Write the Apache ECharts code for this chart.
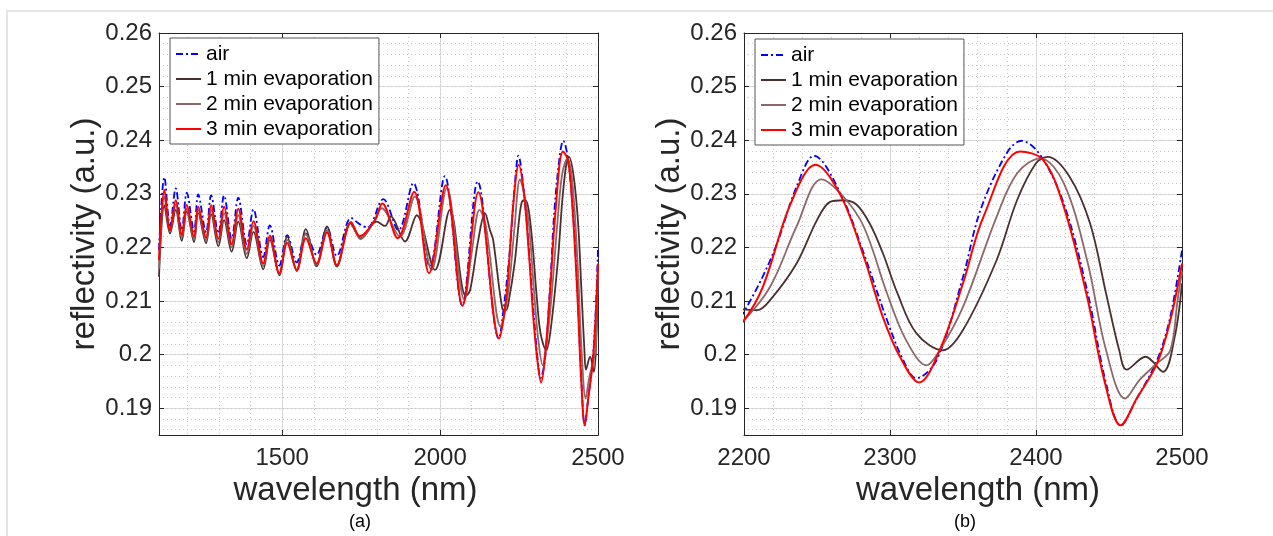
<!DOCTYPE html>
<html lang="en">
<head>
    <meta charset="UTF-8">
    <title>reflectivity vs wavelength</title>
    <script type="text/javascript" src="https://cdn.jsdelivr.net/npm/echarts@6/dist/echarts.min.js"></script>
    <style>
        body { margin: 0; background: #fff; }
        #frame {
            position: absolute; left: 6px; top: 10px; width: 1300px; height: 600px;
            border-top: 2px solid #e4e4e4; border-left: 2px solid #e4e4e4;
        }
        #main { position: absolute; left: 0; top: 0; width: 1273px; height: 536px; }
    </style>
</head>
<body>
<div id="frame"></div>
<div id="main"></div>
<script>
    // air
    var airWl = [1110, 1127, 1145, 1163, 1182, 1198, 1221, 1234, 1259, 1275, 1298, 1316, 1340, 1361, 1388, 1409, 1440, 1461, 1491, 1516, 1546, 1575, 1609, 1642, 1673,
        1718, 1746, 1770, 1820, 1868, 1915, 1968, 2015, 2070, 2119, 2186, 2200, 2220, 2236, 2248, 2266, 2282, 2298, 2309, 2318, 2332, 2350, 2362, 2380, 2390, 2403, 2419, 2435, 2448, 2458, 2469, 2483, 2492, 2500];
    var airRefl = [0.2195, 0.2331, 0.2240, 0.2310, 0.2232, 0.2302, 0.2230, 0.2299, 0.2228, 0.2297, 0.2226, 0.2297, 0.2216, 0.2293, 0.2206, 0.2271, 0.2182, 0.2241, 0.2166, 0.2223, 0.2172, 0.2226, 0.2186, 0.2237, 0.2184,
        0.2255, 0.2243, 0.2237, 0.2290, 0.2232, 0.2320, 0.2164, 0.2333, 0.2092, 0.2323, 0.2030, 0.2080, 0.2189, 0.2313, 0.2371, 0.2301, 0.2189, 0.2064, 0.1990, 0.1956, 0.1990, 0.2145, 0.2270, 0.2376, 0.2399, 0.2372, 0.2282, 0.2120, 0.1946, 0.1868, 0.1918, 0.1990, 0.2071, 0.2195];

    // 1 min
    var min1Wl = [1110, 1127, 1145, 1163, 1182, 1198, 1221, 1234, 1259, 1275, 1298, 1316, 1340, 1361, 1388, 1409, 1440, 1461, 1491, 1516, 1546, 1575, 1609, 1642, 1673,
        1716, 1749, 1799, 1826, 1844, 1889, 1926, 1984, 2031, 2081, 2095, 2121, 2142, 2158, 2168, 2197, 2209, 2218, 2236, 2250, 2259, 2268, 2277, 2286, 2295, 2305, 2318, 2336, 2350, 2373, 2387, 2400, 2408, 2423, 2437, 2448, 2457, 2462, 2475, 2487, 2495, 2500];
    var min1Refl = [0.2145, 0.2279, 0.2226, 0.2270, 0.2212, 0.2267, 0.2210, 0.2264, 0.2208, 0.2262, 0.2202, 0.2251, 0.2192, 0.2248, 0.2180, 0.2229, 0.2159, 0.2214, 0.2148, 0.2220, 0.2156, 0.2234, 0.2165, 0.2239, 0.2164,
        0.2245, 0.2217, 0.2248, 0.2240, 0.2258, 0.2211, 0.2260, 0.2158, 0.2270, 0.2109, 0.2120, 0.2214, 0.2264, 0.2232, 0.2214, 0.2086, 0.2083, 0.2102, 0.2170, 0.2251, 0.2285, 0.2288, 0.2280, 0.2245, 0.2190, 0.2115, 0.2040, 0.2008, 0.2046, 0.2176, 0.2288, 0.2357, 0.2369, 0.2332, 0.2245, 0.2114, 0.2008, 0.1972, 0.1996, 0.1968, 0.2033, 0.2133];

    // 2 min
    var min2Wl = [1110, 1127, 1145, 1163, 1182, 1198, 1221, 1234, 1259, 1275, 1298, 1316, 1340, 1361, 1388, 1409, 1440, 1461, 1491, 1516, 1546, 1575, 1609, 1642, 1673,
        1718, 1748, 1790, 1815, 1873, 1920, 1973, 2021, 2077, 2100, 2125, 2145, 2192, 2200, 2218, 2236, 2253, 2268, 2282, 2298, 2311, 2325, 2334, 2350, 2373, 2387, 2403, 2419, 2435, 2448, 2461, 2471, 2483, 2492, 2497, 2500];
    var min2Refl = [0.2160, 0.2295, 0.2230, 0.2280, 0.2218, 0.2272, 0.2215, 0.2270, 0.2213, 0.2270, 0.2210, 0.2264, 0.2200, 0.2260, 0.2188, 0.2240, 0.2165, 0.2218, 0.2150, 0.2214, 0.2157, 0.2225, 0.2168, 0.2232, 0.2166,
        0.2247, 0.2215, 0.2248, 0.2273, 0.2220, 0.2295, 0.2158, 0.2310, 0.2102, 0.2190, 0.2270, 0.2240, 0.2052, 0.2064, 0.2127, 0.2239, 0.2327, 0.2295, 0.2239, 0.2114, 0.2027, 0.1980, 0.2008, 0.2089, 0.2257, 0.2338, 0.2366, 0.2320, 0.2176, 0.2008, 0.1918, 0.1953, 0.1984, 0.2008, 0.2102, 0.2155];

    // 3 min
    var min3Wl = [1110, 1127, 1145, 1163, 1182, 1198, 1221, 1234, 1259, 1275, 1298, 1316, 1340, 1361, 1388, 1409, 1440, 1461, 1491, 1516, 1546, 1575, 1609, 1642, 1673,
        1718, 1746, 1794, 1817, 1866, 1918, 1965, 2018, 2071, 2121, 2187, 2200, 2213, 2232, 2249, 2266, 2282, 2295, 2307, 2320, 2334, 2350, 2364, 2389, 2405, 2419, 2435, 2447, 2458, 2469, 2483, 2492, 2500];
    var min3Refl = [0.2176, 0.2307, 0.2232, 0.2288, 0.2223, 0.2279, 0.2220, 0.2276, 0.2218, 0.2278, 0.2216, 0.2276, 0.2206, 0.2272, 0.2196, 0.2249, 0.2170, 0.2222, 0.2152, 0.2208, 0.2158, 0.2217, 0.2170, 0.2228, 0.2167,
        0.2247, 0.2221, 0.2251, 0.2282, 0.2217, 0.2304, 0.2152, 0.2316, 0.2091, 0.2303, 0.2030, 0.2064, 0.2127, 0.2282, 0.2354, 0.2298, 0.2183, 0.2071, 0.1995, 0.1948, 0.2008, 0.2133, 0.2257, 0.2379, 0.2363, 0.2276, 0.2108, 0.1950, 0.1868, 0.1918, 0.1984, 0.2064, 0.2170];

    var seriesNames = ['air', '1 min evaporation', '2 min evaporation', '3 min evaporation'];
    var seriesWl = [airWl, min1Wl, min2Wl, min3Wl];
    var seriesRefl = [airRefl, min1Refl, min2Refl, min3Refl];
    var seriesColors = ['#0000ff', '#4b2f2f', '#8c6868', '#ff0000'];

    var yMin = 0.185, yMax = 0.26;
    var FONT = 'Liberation Sans, Arial, sans-serif';
    var INK = '#262626';

    function pairs(w, r) {
        return w.map(function (x, i) { return [x, r[i]]; });
    }

    // main (labelled) axes
    function xMain(grid, min, max, split, namePad) {
        return {
            type: 'value', gridIndex: grid, min: min, max: max, splitNumber: split, position: 'bottom',
            axisLine: {show: true, lineStyle: {color: INK, width: 1}},
            axisTick: {show: true, inside: true, length: 5, lineStyle: {color: INK}},
            axisLabel: {showMinLabel: min % 100 === 0, margin: 11, fontSize: 24, color: INK, fontFamily: FONT,
                formatter: function (v) { return String(v); }},
            splitLine: {show: true, lineStyle: {color: '#dcdcdc', width: 1}},
            name: 'wavelength (nm)', nameLocation: 'middle', nameGap: 37,
            nameTextStyle: {fontSize: 33, color: INK, fontFamily: FONT, padding: namePad}
        };
    }
    function xTop(grid, min, max, split) {
        return {
            type: 'value', gridIndex: grid, min: min, max: max, splitNumber: split, position: 'top',
            axisLine: {show: true, lineStyle: {color: INK, width: 1}},
            axisTick: {show: true, inside: true, length: 5, lineStyle: {color: INK}},
            axisLabel: {show: false}, splitLine: {show: false}
        };
    }
    function yMainAx(grid) {
        return {
            type: 'value', gridIndex: grid, min: yMin, max: yMax, splitNumber: 8, position: 'left',
            axisLine: {show: true, lineStyle: {color: INK, width: 1}},
            axisTick: {show: true, inside: true, length: 5, lineStyle: {color: INK}},
            axisLabel: {showMinLabel: false, margin: 7, fontSize: 24, color: INK, fontFamily: FONT},
            splitLine: {show: true, lineStyle: {color: '#dcdcdc', width: 1}},
            name: 'reflectivity (a.u.)', nameLocation: 'middle', nameGap: 55,
            nameTextStyle: {fontSize: 33, color: INK, fontFamily: FONT}
        };
    }
    function yRight(grid) {
        return {
            type: 'value', gridIndex: grid, min: yMin, max: yMax, splitNumber: 8, position: 'right',
            axisLine: {show: true, lineStyle: {color: INK, width: 1}},
            axisTick: {show: true, inside: true, length: 5, lineStyle: {color: INK}},
            axisLabel: {show: false}, splitLine: {show: false}
        };
    }
    // unlabelled axes that only carry the dotted minor grid
    function minorAx(grid, min, max, split, pos) {
        return {
            type: 'value', gridIndex: grid, min: min, max: max, splitNumber: split, position: pos,
            axisLine: {show: false}, axisTick: {show: false}, axisLabel: {show: false},
            splitLine: {show: true, lineStyle: {color: '#c8c8c8', width: 1, type: [1, 3]}}
        };
    }

    var series = [];
    [0, 1].forEach(function (g) {
        seriesNames.forEach(function (name, i) {
            series.push({
                name: name, type: 'line', xAxisIndex: g * 3, yAxisIndex: g * 3,
                data: pairs(seriesWl[i], seriesRefl[i]),
                smooth: 0.35, symbol: 'none', clip: true,
                itemStyle: {color: seriesColors[i]},
                lineStyle: {color: seriesColors[i], width: i === 3 ? 2 : 1.8, type: i === 0 ? [7, 3, 2, 3] : 'solid'}
            });
        });
    });

    function legendAt(left, top) {
        return {
            data: seriesNames, orient: 'vertical', left: left, top: top,
            itemWidth: 25, itemHeight: 12, itemGap: 1, padding: [4, 6, 3, 5],
            itemStyle: {opacity: 0},
            backgroundColor: '#fff', borderColor: '#555', borderWidth: 1, borderRadius: 0,
            selectedMode: false,
            textStyle: {fontSize: 21, lineHeight: 24, color: '#000', fontFamily: FONT}
        };
    }

    var chart = echarts.init(document.getElementById('main'), null, {width: 1273, height: 536});
    chart.setOption({
        animation: false,
        grid: [
            {left: 159, top: 33, width: 439, height: 402},
            {left: 744, top: 33, width: 438, height: 402}
        ],
        xAxis: [
            xMain(0, 1110, 2500, 3, [0, 46, 0, 0]), xTop(0, 1110, 2500, 3), minorAx(0, 1110, 2500, 14, 'bottom'),
            xMain(1, 2200, 2500, 3, [0, 0, 0, 30]), xTop(1, 2200, 2500, 3), minorAx(1, 2200, 2500, 15, 'bottom')
        ],
        yAxis: [
            yMainAx(0), yRight(0), minorAx(0, yMin, yMax, 37, 'left'),
            yMainAx(1), yRight(1), minorAx(1, yMin, yMax, 37, 'left')
        ],
        legend: [legendAt(170, 38), legendAt(755, 39)],
        graphic: [
            {type: 'text', x: 360, y: 522, style: {text: '(a)', fontSize: 18, fontFamily: FONT, fill: '#000', align: 'center', verticalAlign: 'middle'}},
            {type: 'text', x: 965, y: 522, style: {text: '(b)', fontSize: 18, fontFamily: FONT, fill: '#000', align: 'center', verticalAlign: 'middle'}}
        ],
        series: series
    });
</script>
</body>
</html>
